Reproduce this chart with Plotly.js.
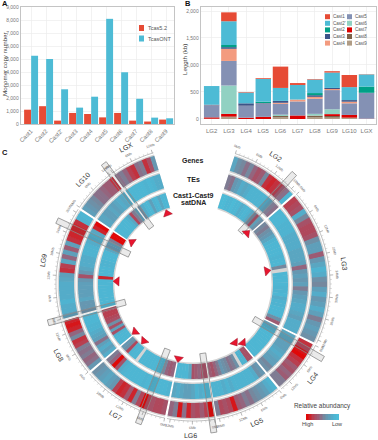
<!DOCTYPE html>
<html><head><meta charset="utf-8">
<script src="https://cdn.plot.ly/plotly-3.0.1.min.js"></script>
<style>html,body{margin:0;padding:0;background:#fff}#c{width:378px;height:440px}</style>
</head><body><div id="c"></div>
<script>
// ---- Panel A ----
const castCats = ["Cast1","Cast2","Cast2'","Cast3","Cast4","Cast5","Cast6","Cast7","Cast8","Cast9"];
const tcas52 = [1100,1370,260,850,770,510,850,260,190,340];
const tcasONT = [5250,5000,2670,1260,2100,8090,3980,1940,490,440];
// ---- Panel B (values per LG) ----
const lgNames = ["LG2","LG3","LG4","LG5","LG6","LG7","LG8","LG9","LG10","LGX"];
const cast9 = [0,35,0,0,30,0,30,25,20,0];
const cast8 = [5,10,0,0,25,0,25,30,5,0];
const cast7 = [25,50,25,40,0,65,5,35,50,5];
const cast6 = [0,525,0,0,25,0,35,90,0,0];
const cast5 = [215,455,215,240,200,260,280,355,215,470];
const cast4 = [5,225,5,5,20,35,35,20,30,0];
const cast3 = [15,30,45,10,35,0,30,20,30,10];
const cast2 = [0,40,0,25,0,0,40,0,0,115];
const cast2p = [345,440,200,420,240,270,250,285,240,225];
const cast1 = [0,165,10,15,395,35,10,25,225,5];
// ---- Panel C ----
const lgLengthsMb = [19.4,43,15,18.7,12.9,23.9,15.5,31,12.3,12.3];
const genesLG2 = [.25,.4,.45,.55,.45,.6,.7,.65,.45,.85,.9,.85,.8,.65,.55,.1];
const tesLG2 = [.5,.55,.35,.3,.2,.25,.2,.15,.15,.15,.15,.15,.2,.3,.5,.55];
const satLG2 = [.05,.05,.1,.1,.05,.1,.1,.2,.15,.1,.15,.25,.45,.7,.3,.4];
const genesLG3 = [.8,.75,.7,.2,.45,.7,.75,.75,.7,.4,.3,.3,.65,.35,.25,.15,.2,.4,.45,.3,.2,.35,.3,.2,.3,.5,.35,.3,.35,.4];
const tesLG3 = [.1,.1,.1,.15,.15,.15,.2,.2,.2,.2,.25,.25,.25,.3,.6,.35,.3,.35,.3,.5,.35,.3,.25,.2,.2,.25,.3,.2,.2,.2];
const satLG3 = [.45,.5,.4,.35,.25,.15,.1,.1,.1,.1,.15,.1,.1,.45,null,.1,.1,.1,.1,.15,.15,.1,.2,.15,.15,.1,.1,.1,.4,.65];
const genesLG4 = [.85,.75,.95,1,.85,.8,.65,.7,.6,.65,.5,.5];
const tesLG4 = [.25,.25,.3,.3,.3,.25,.2,.25,.3,.3,.45,.4];
const satLG4 = [.3,.2,.15,.1,.1,.1,.1,.1,.1,.1,.1,.1];
const genesLG5 = [.15,.2,.3,.35,.4,.45,.55,.5,.6,.65,.95,.75,.7,.75,.5];
const tesLG5 = [.35,.4,.2,.15,.15,.15,.15,.15,.15,.2,.15,.2,.15,.15,.15];
const satLG5 = [.7,.7,.15,.15,null,.4,.5,.55,.45,.4,.35,.5,.6,.7,.65];
const genesLG6 = [1,.8,.65,.75,.7,.9,.55,.95,.5,.6];
const tesLG6 = [.1,.15,.2,.15,.25,.3,.3,.25,.2,.25];
const satLG6 = [.7,.7,.6,.65,.7,.25,.1,.1,.1,.1];
const genesLG7 = [.7,.75,.75,.7,.75,1,.75,.5,.9,.65,.85,.9,.8,.35,.3,.25,.3,.35,.4];
const tesLG7 = [.15,.1,.1,.1,.1,.15,.1,.15,.1,.1,.1,.1,.1,.15,.2,.7,1,.6,.5];
const satLG7 = [.6,.65,.6,.45,.15,.1,.1,.1,.1,.1,.1,.1,null,.1,.1,.15,.75,.4,.35];
const genesLG8 = [.35,.55,.6,.5,.55,.5,.8,.85,.45,.6,.9,.95,.9];
const tesLG8 = [.2,.3,.2,.3,.55,.3,.25,.2,.15,.15,.1,.1,.15];
const satLG8 = [.1,.1,.1,.15,.7,.3,.7,.4,.7,.75,.8,.8,.75];
const genesLG9 = [.3,.2,.2,.15,.2,.2,.2,.2,.25,.3,.85,.8,.25,.6,.3,.65,.3,.85,.9,.9,.9,.85,.15,.1];
const tesLG9 = [.4,.35,.35,.25,.3,.3,.3,.3,.35,.7,.35,.25,.2,.2,.2,.15,.15,.15,.2,.2,.15,.25,.9,1];
const satLG9 = [.1,.1,.1,.1,.1,.1,.1,.1,.1,.9,.1,.1,.1,.15,.15,.1,.1,.1,.25,.35,.3,.5,1,1];
const genesLG10 = [.3,.35,.4,.45,.55,.55,.6,.65,.65,.85];
const tesLG10 = [.25,.25,.3,.3,.25,.3,.25,.2,.25,.2];
const satLG10 = [.1,.1,.1,.1,.1,.15,.25,.75,.5,.3];
const genesLGX = [.55,.5,.6,.8,.85,.55,.5,.85,.7,.35];
const tesLGX = [.1,.1,.1,.1,.1,.15,.1,.15,.2,.2];
const satLGX = [.4,.2,.1,.1,.3,.15,.1,.25,.1,.1];
const triangleTheta = [272,304.5,340,46.6,80,144.5,139.7,191,220.7,230.4];
const triangleR = [76,74,75,74,75,72,77,76,75,75];
const boxTheta = [42.5,120,172,201.4,255,295,323.5];
const gradientValues = [1,.95,.9,.85,.8,.75,.7,.65,.6,.55,.5,.45,.4,.35,.3,.25,.2,.15,.1,.05,0];

const genes = [genesLG2,genesLG3,genesLG4,genesLG5,genesLG6,genesLG7,genesLG8,genesLG9,genesLG10,genesLGX];
const tes = [tesLG2,tesLG3,tesLG4,tesLG5,tesLG6,tesLG7,tesLG8,tesLG9,tesLG10,tesLGX];
const sats = [satLG2,satLG3,satLG4,satLG5,satLG6,satLG7,satLG8,satLG9,satLG10,satLGX];

const font = "Liberation Sans, Arial, sans-serif";
const W=378,H=440, cx=193, cy=284, Rmax=155;
const px = x=>x/W, py = y=>(H-y)/H;
const deg = 1.55, gap = 1, start0 = 18;
const heat = [[0,'#4cbdd9'],[.15,'#4fb3d0'],[.3,'#5f9fba'],[.45,'#75889e'],[.62,'#98607a'],[.8,'#b83f50'],[1,'#e00808']];

const sectors=[]; let a0=start0;
lgLengthsMb.forEach(L=>{sectors.push([a0,a0+L*deg]); a0+=L*deg+gap;});
const traces=[];

// Panel A
const gridc='#ececec';
traces.push({type:'bar',x:castCats,y:tcas52,xaxis:'x',yaxis:'y',width:.46,offset:-.46,marker:{color:'#e64b35'},hoverinfo:'skip',showlegend:false});
traces.push({type:'bar',x:castCats,y:tcasONT,xaxis:'x',yaxis:'y',width:.46,offset:0.01,marker:{color:'#4dbbd5'},hoverinfo:'skip',showlegend:false});

// Panel B
const stackSeries=[cast9,cast8,cast7,cast6,cast5,cast4,cast3,cast2,cast2p,cast1];
const stackColors=['#b09c85','#7e6148','#dc0000','#91d1c2','#8491b4','#f39b7f','#3c5488','#00a087','#4dbbd5','#e64b35'];
const cum=lgNames.map(()=>0);
stackSeries.forEach((s,i)=>{
  traces.push({type:'bar',x:lgNames,y:s,base:cum.slice(),xaxis:'x2',yaxis:'y2',width:.9,marker:{color:stackColors[i]},hoverinfo:'skip',showlegend:false});
  s.forEach((v,k)=>cum[k]+=v);
});

// Panel C rings
function ring(data,r0,r1){
  const th=[],w=[],c=[];
  data.forEach((vals,k)=>{
    const [s,e]=sectors[k], bw=(e-s)/vals.length;
    vals.forEach((v,j)=>{ if(v===null) return;
      const next=vals[j+1];
      const over=(j<vals.length-1&&next!==null)?.25:0;
      th.push(s+bw*(j+.5)+over/2); w.push(bw+over); c.push(v);});
  });
  return {type:'barpolar',subplot:'polar',theta:th,r:th.map(()=>r1-r0),base:th.map(()=>r0),width:w,
    marker:{color:c,colorscale:heat,cmin:0,cmax:1,line:{width:0}},hoverinfo:'skip',showlegend:false};
}
function backing(r0,r1){
  return {type:'barpolar',subplot:'polar',theta:sectors.map(s=>(s[0]+s[1])/2),r:sectors.map(()=>r1-r0),base:sectors.map(()=>r0),
    width:sectors.map(s=>s[1]-s[0]),marker:{color:'#d4d4d4',line:{width:0}},hoverinfo:'skip',showlegend:false};
}
[[119,134,genes],[100,115,tes],[80,95,sats]].forEach(([a,b,d])=>{
  traces.push(backing(a-1.4,b+1.4));
  traces.push(ring(d,a,b));
});

const arcT=[],arcR=[],minT=[],minR=[],majT=[],majR=[];
const ann=[];
function rotFor(t){t=((t%360)+360)%360; return (t>90&&t<270)?t-180:(t>=270?t-360:t);}
function pol(r,t){const q=t*Math.PI/180; return [px(cx+r*Math.sin(q)),py(cy-r*Math.cos(q))];}
function label(text,r,t,size,color,extra){
  const [x,y]=pol(r,t);
  ann.push(Object.assign({xref:'paper',yref:'paper',x,y,text,showarrow:false,xanchor:'center',yanchor:'middle',
    textangle:rotFor(t),font:{family:font,size,color}},extra||{}));
}
sectors.forEach(([s,e],k)=>{
  for(let t=s;t<=e+1e-6;t+=.8){arcT.push(t);arcR.push(137);}
  arcT.push(e);arcR.push(137);arcT.push(null);arcR.push(null);
  for(let m=0;m<=lgLengthsMb[k]+1e-6;m+=1.2){
    const t=s+m*deg;
    const idx=Math.round(m/1.2);
    if(idx%5===0){
      majT.push(t,t,null);majR.push(137,140.5,null);
      label(Math.round(m)+'Mb',144.5,t,3.5,'#666');
    } else {minT.push(t,t,null);minR.push(137,139,null);}
  }
  label(lgNames[k],152,(s+e)/2,7,'#333');
});
const sp=(t,r,col,w)=>({type:'scatterpolar',subplot:'polar',mode:'lines',theta:t,r:r,line:{color:col,width:w},connectgaps:false,hoverinfo:'skip',showlegend:false,cliponaxis:false});
traces.push(sp(arcT,arcR,'#b0b0b0',.8));
traces.push(sp(minT,minR,'#aaa',.4));
traces.push(sp(majT,majR,'#888',.6));

boxTheta.forEach(t=>{
  const w=3, r1=70, r2=150;
  const corner=(r,s)=>[Math.hypot(r,w),t+s*Math.atan(w/r)*180/Math.PI];
  const pts=[corner(r1,-1),corner(r2,-1),corner(r2,1),corner(r1,1),corner(r1,-1)];
  traces.push({type:'scatterpolar',subplot:'polar',mode:'lines',theta:pts.map(p=>p[1]),r:pts.map(p=>p[0]),fill:'toself',
    fillcolor:'rgba(50,50,50,0.1)',line:{color:'#8a8a8a',width:.8},hoverinfo:'skip',showlegend:false,cliponaxis:false});
});
traces.push({type:'scatterpolar',subplot:'polar',mode:'markers',theta:triangleTheta,r:triangleR,
  marker:{symbol:'triangle-up',size:8,color:'#e8152e',angle:triangleTheta,line:{color:'#9a1025',width:.5}},hoverinfo:'skip',showlegend:false,cliponaxis:false});

traces.push({type:'heatmap',z:[gradientValues],xaxis:'x3',yaxis:'y3',colorscale:heat,zmin:0,zmax:1,showscale:false,hoverinfo:'skip'});

const shapes=[];
function swatch(x0,y0,x1,y1,color){shapes.push({type:'rect',xref:'paper',yref:'paper',x0:px(x0),x1:px(x1),y0:py(y1),y1:py(y0),fillcolor:color,line:{width:0}});}
function txt(text,x,y,size,color,anchor,bold,rot){
  ann.push({xref:'paper',yref:'paper',x:px(x),y:py(y),text:bold?'<b>'+text+'</b>':text,showarrow:false,xanchor:anchor||'left',yanchor:'middle',textangle:rot||0,
    font:{family:font,size,color}});
}
swatch(139,25,144,31,'#e64b35'); txt('Tcas5.2',146,28,5.5,'#555');
swatch(139,35.5,144,41.5,'#4dbbd5'); txt('TcasONT',146,38.5,5.5,'#555');
const legendOrder=[["Cast1",'#e64b35'],["Cast2'",'#4dbbd5'],["Cast2",'#00a087'],["Cast3",'#3c5488'],["Cast4",'#f39b7f'],["Cast5",'#8491b4'],["Cast6",'#91d1c2'],["Cast7",'#dc0000'],["Cast8",'#7e6148'],["Cast9",'#b09c85']];
legendOrder.forEach(([n,c],i)=>{
  const col=i<5?0:1, row=i%5, x=col?347:325, y=16.7+row*6.6;
  swatch(x,y-2.5,x+5,y+2.5,c); txt(n,x+6,y,4.5,'#555');
});
txt('A',0,4,7.5,'#111','left',true);
txt('B',183,4,7.5,'#111','left',true);
txt('C',0,152,7.5,'#111','left',true);
txt('Genes',cx,160,7,'#222','center',true);
txt('TEs',cx,179,7,'#222','center',true);
txt('Cast1-Cast9',cx,195,7,'#222','center',true);
txt('satDNA',cx,203,7,'#222','center',true);
txt('Monomer copy number',4,64,6.2,'#444','center',false,-90);
txt('Length (kb)',185,60,6.2,'#444','center',false,-90);
txt('Relative abundancy',322,406,6.4,'#444','center');
txt('High',307,424,5.5,'#444','center');
txt('Low',337,424,5.5,'#444','center');

const axbase={showline:true,mirror:true,linecolor:'#c4c4c4',linewidth:1.3,gridcolor:gridc,gridwidth:.7,ticks:'',zeroline:false,tickfont:{family:font,size:5,color:'#777'}};
const layout={
  width:W,height:H,margin:{l:0,r:0,t:0,b:0},paper_bgcolor:'#fff',plot_bgcolor:'#fff',barmode:'overlay',showlegend:false,
  xaxis:Object.assign({},axbase,{domain:[px(21),px(174)],anchor:'y',range:[-.667,9.53],type:'category',tickangle:-45,showgrid:true,tickfont:{family:font,size:6,color:'#777'}}),
  yaxis:Object.assign({},axbase,{domain:[py(124),py(7)],anchor:'x',range:[0,9000],tickvals:[0,1000,2000,3000,4000,5000,6000,7000,8000,9000],tickformat:','}),
  xaxis2:Object.assign({},axbase,{domain:[px(201),px(376)],anchor:'y2',range:[-.62,9.55],type:'category',showgrid:true,tickangle:0,tickfont:{family:font,size:6,color:'#777'}}),
  yaxis2:Object.assign({},axbase,{domain:[py(124),py(7)],anchor:'x2',range:[-93,2074],tickvals:[0,500,1000,1500,2000],tickformat:','}),
  xaxis3:{domain:[px(306),px(339)],anchor:'y3',visible:false},
  yaxis3:{domain:[py(420),py(414)],anchor:'x3',visible:false},
  polar:{domain:{x:[px(cx-Rmax),px(cx+Rmax)],y:[py(cy+Rmax),py(cy-Rmax)]},bgcolor:'rgba(0,0,0,0)',
    angularaxis:{visible:false,direction:'clockwise',rotation:90},
    radialaxis:{visible:false,range:[0,Rmax]}},
  annotations:ann,shapes:shapes
};
Plotly.newPlot('c',traces,layout,{displayModeBar:false,staticPlot:true});
</script></body></html>
